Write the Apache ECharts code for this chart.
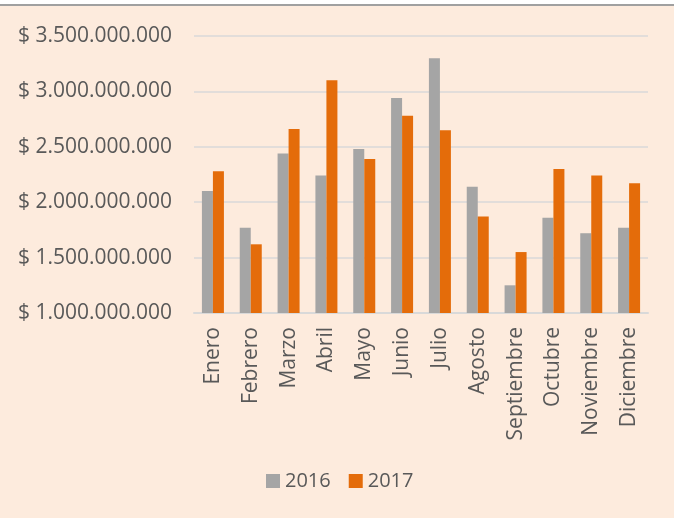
<!DOCTYPE html>
<html>
<head>
<meta charset="utf-8">
<script src="https://cdn.jsdelivr.net/npm/echarts@6/dist/echarts.min.js"></script>
<style>
html,body{margin:0;padding:0;background:#fff;}
#chart{width:674px;height:518px;}
</style>
</head>
<body>
<div id="chart"></div>
<script>
const categories = ['Enero','Febrero','Marzo','Abril','Mayo','Junio','Julio','Agosto','Septiembre','Octubre','Noviembre','Diciembre'];
const values2016 = [2100000000,1770000000,2440000000,2240000000,2480000000,2940000000,3300000000,2140000000,1250000000,1860000000,1720000000,1770000000];
const values2017 = [2280000000,1620000000,2660000000,3100000000,2390000000,2780000000,2650000000,1870000000,1550000000,2300000000,2240000000,2170000000];
const yMin = 1000000000, yMax = 3500000000, yStep = 500000000;

function fmt(v){
  return '$ ' + String(Math.round(v)).replace(/\B(?=(\d{3})+(?!\d))/g, '.');
}

const chart = echarts.init(document.getElementById('chart'));
const font = '"Open Sans", sans-serif';
chart.setOption({
  backgroundColor: '#FDEBDD',
  animation: false,
  graphic: [
    {type:'rect', shape:{x:0,y:0,width:674,height:4}, style:{fill:'#ffffff'}, silent:true},
    {type:'rect', shape:{x:0,y:4,width:674,height:2}, style:{fill:'#A0A0A0'}, silent:true}
  ],
  grid: {left:194, right:26, top:36, bottom:205},
  legend: {
    data:['2016','2017'],
    left:266, top:471, padding:0,
    itemWidth:14, itemHeight:14, itemGap:18,
    icon:'rect',
    textStyle:{fontFamily:font, fontSize:20, color:'#595959'}
  },
  xAxis: {
    type:'category',
    data: categories,
    axisLine:{lineStyle:{color:'#D9D9D9', width:2}},
    axisTick:{show:false},
    axisLabel:{rotate:90, margin:14, fontFamily:font, fontSize:21, color:'#595959', interval:0}
  },
  yAxis: {
    type:'value',
    min:yMin, max:yMax, interval:yStep,
    axisLine:{show:false},
    axisTick:{show:false},
    splitLine:{lineStyle:{color:'#D9D9D9', width:1.5}},
    axisLabel:{margin:22, fontFamily:font, fontSize:21, color:'#595959', formatter: fmt}
  },
  series: [
    {name:'2016', type:'bar', data: values2016, barWidth:11, barGap:'0%', itemStyle:{color:'#A5A5A5'}},
    {name:'2017', type:'bar', data: values2017, barWidth:11, barGap:'0%', itemStyle:{color:'#E46C0A'}}
  ]
});
</script>
</body>
</html>
